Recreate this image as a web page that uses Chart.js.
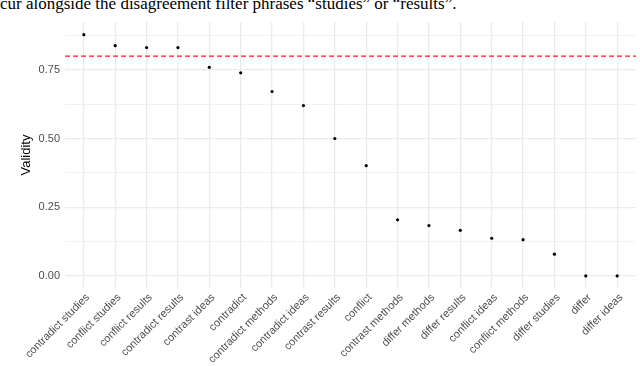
<!DOCTYPE html>
<html>
<head>
<meta charset="utf-8">
<script src="https://cdn.jsdelivr.net/npm/chart.js@4"></script>
<style>
  body { margin: 0; background: #fff; }
  #wrap { position: relative; width: 640px; height: 366px; overflow: hidden; }
  #caption {
    position: absolute; left: 0; top: -6px; white-space: nowrap;
    font-family: "Liberation Serif", serif; font-size: 17px; color: #000; line-height: 20px;
  }
  #myChart { position: absolute; left: 0; top: 0; }
</style>
</head>
<body>
<div id="wrap">
  <div id="caption">cur alongside the disagreement filter phrases “studies” or “results”.</div>
  <canvas id="myChart" width="640" height="366"></canvas>
</div>
<script>
// phrases, sorted by validity
var phrases = [
  "contradict studies", "conflict studies", "conflict results", "contradict results",
  "contrast ideas", "contradict", "contradict methods", "contradict ideas",
  "contrast results", "conflict", "contrast methods", "differ methods",
  "differ results", "conflict ideas", "conflict methods", "differ studies",
  "differ", "differ ideas"
];
var validity = [
  0.878, 0.838, 0.831, 0.831,
  0.759, 0.739, 0.671, 0.620,
  0.500, 0.401, 0.204, 0.183,
  0.166, 0.137, 0.132, 0.079,
  0.0, 0.0
];
var threshold = 0.8;
var yTicks = [0, 0.125, 0.25, 0.375, 0.5, 0.625, 0.75, 0.875];

var points = phrases.map(function (p, i) { return { x: i, y: validity[i] }; });
var xMin = -0.6, xMax = phrases.length - 1 + 0.6;

var ctx = document.getElementById("myChart");
var myChart = new Chart(ctx, {
  type: 'scatter',
  data: {
    datasets: [{
      label: 'Validity',
      data: points,
      backgroundColor: '#000',
      borderColor: '#000',
      pointRadius: 1.6,
      borderWidth: 0
    }, {
      // threshold line
      label: 'threshold',
      type: 'line',
      data: [{ x: xMin, y: threshold }, { x: xMax, y: threshold }],
      borderColor: '#FF1A1A',
      borderWidth: 1.3,
      borderDash: [5, 3],
      pointRadius: 0,
      fill: false
    }]
  },
  options: {
    responsive: false,
    animation: false,
    layout: { padding: { top: 22, right: 2, left: 0, bottom: 0 } },
    plugins: { legend: { display: false }, tooltip: { enabled: false } },
    scales: {
      x: {
        type: 'linear',
        min: xMin,
        max: xMax,
        afterBuildTicks: function (axis) {
          axis.ticks = phrases.map(function (p, i) { return { value: i }; });
        },
        afterFit: function (axis) { axis.height = 78; },
        ticks: {
          autoSkip: false,
          minRotation: 45,
          maxRotation: 45,
          padding: 3,
          labelOffset: 4,
          color: '#4D4D4D',
          font: { family: 'Liberation Sans', size: 11 },
          callback: function (v) { return phrases[v]; }
        },
        grid: { color: '#EBEBEB', lineWidth: 1.3, drawTicks: false },
        border: { display: false }
      },
      y: {
        min: -0.044,
        max: 0.924,
        afterBuildTicks: function (axis) {
          axis.ticks = yTicks.map(function (v) { return { value: v }; });
        },
        afterFit: function (axis) { axis.width = 65; },
        ticks: {
          padding: 5,
          color: '#4D4D4D',
          font: { family: 'Liberation Sans', size: 11 },
          callback: function (v) { return (v * 100) % 25 === 0 ? v.toFixed(2) : ''; }
        },
        grid: {
          color: '#EBEBEB',
          drawTicks: false,
          lineWidth: function (c) { return (c.tick && (c.tick.value * 100) % 25 === 0) ? 1.3 : 0.7; }
        },
        border: { display: false },
        title: {
          display: true,
          text: 'Validity',
          color: '#000',
          font: { family: 'Liberation Sans', size: 13 },
          padding: { top: 19, bottom: 0 }
        }
      }
    }
  }
});
</script>
</body>
</html>
